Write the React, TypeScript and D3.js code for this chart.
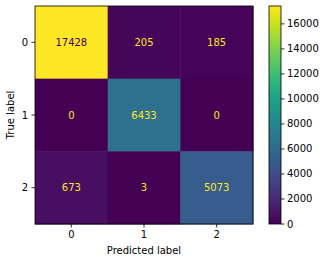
import React from "react";
import * as d3 from "d3";

const classes = ["0", "1", "2"];
const matrix = [
  [17428, 205, 185],
  [0, 6433, 0],
  [673, 3, 5073],
];
const cbarTicks = [0, 2000, 4000, 6000, 8000, 10000, 12000, 14000, 16000];

export default function App() {
  const W = 325, H = 262;
  const left = 35, right = 253, top = 6, bottom = 224;
  const x = d3.scaleBand().domain(classes).range([left, right]);
  const y = d3.scaleBand().domain(classes).range([top, bottom]);
  const flat = matrix.flat();
  const vmin = d3.min(flat)!, vmax = d3.max(flat)!;
  const color = d3.scaleSequential(d3.interpolateViridis).domain([vmin, vmax]);
  const cbX0 = 269, cbX1 = 281;
  const cbY = d3.scaleLinear().domain([vmin, vmax]).range([bottom, top]);
  const gradStops = d3.range(0, 1.0001, 0.05);
  const font = "DejaVu Sans, sans-serif";
  const thresh = (vmax + vmin) / 2;

  return (
    <svg width={W} height={H} style={{ position: "absolute", left: 0, top: 0, background: "#fff" }} fontFamily={font}>
      <defs>
        <linearGradient id="cb" x1="0" y1="1" x2="0" y2="0">
          {gradStops.map((t) => (
            <stop key={t} offset={t} stopColor={d3.interpolateViridis(t)} />
          ))}
        </linearGradient>
      </defs>
      {matrix.map((row, i) =>
        row.map((v, j) => (
          <g key={`${i}-${j}`}>
            <rect x={x(classes[j])} y={y(classes[i])} width={x.bandwidth() + 0.5} height={y.bandwidth() + 0.5} fill={color(v)} />
            <text
              x={x(classes[j])! + x.bandwidth() / 2}
              y={y(classes[i])! + y.bandwidth() / 2}
              textAnchor="middle"
              dominantBaseline="central"
              fontSize={10}
              fill={v > thresh ? d3.interpolateViridis(0) : d3.interpolateViridis(1)}
            >
              {v}
            </text>
          </g>
        ))
      )}
      <rect x={left} y={top} width={right - left} height={bottom - top} fill="none" stroke="#000" strokeWidth={0.8} />
      {classes.map((c) => (
        <g key={"xt" + c}>
          <line x1={x(c)! + x.bandwidth() / 2} x2={x(c)! + x.bandwidth() / 2} y1={bottom} y2={bottom + 3.5} stroke="#000" strokeWidth={0.8} />
          <text x={x(c)! + x.bandwidth() / 2} y={bottom + 7} dominantBaseline="hanging" textAnchor="middle" fontSize={10} fill="#000">{c}</text>
        </g>
      ))}
      {classes.map((c) => (
        <g key={"yt" + c}>
          <line x1={left - 3.5} x2={left} y1={y(c)! + y.bandwidth() / 2} y2={y(c)! + y.bandwidth() / 2} stroke="#000" strokeWidth={0.8} />
          <text x={left - 7} y={y(c)! + y.bandwidth() / 2} dominantBaseline="central" textAnchor="end" fontSize={10} fill="#000">{c}</text>
        </g>
      ))}
      <text x={(left + right) / 2} y={254} textAnchor="middle" fontSize={10} fill="#000">Predicted label</text>
      <text transform={`translate(14,${(top + bottom) / 2}) rotate(-90)`} textAnchor="middle" fontSize={10} fill="#000">True label</text>
      <rect x={cbX0} y={top} width={cbX1 - cbX0} height={bottom - top} fill="url(#cb)" />
      <rect x={cbX0} y={top} width={cbX1 - cbX0} height={bottom - top} fill="none" stroke="#000" strokeWidth={0.8} />
      {cbarTicks.map((t) => (
        <g key={"cb" + t}>
          <line x1={cbX1} x2={cbX1 + 3.5} y1={cbY(t)} y2={cbY(t)} stroke="#000" strokeWidth={0.8} />
          <text x={cbX1 + 6} y={cbY(t)} dominantBaseline="central" fontSize={10} fill="#000">{t}</text>
        </g>
      ))}
    </svg>
  );
}
